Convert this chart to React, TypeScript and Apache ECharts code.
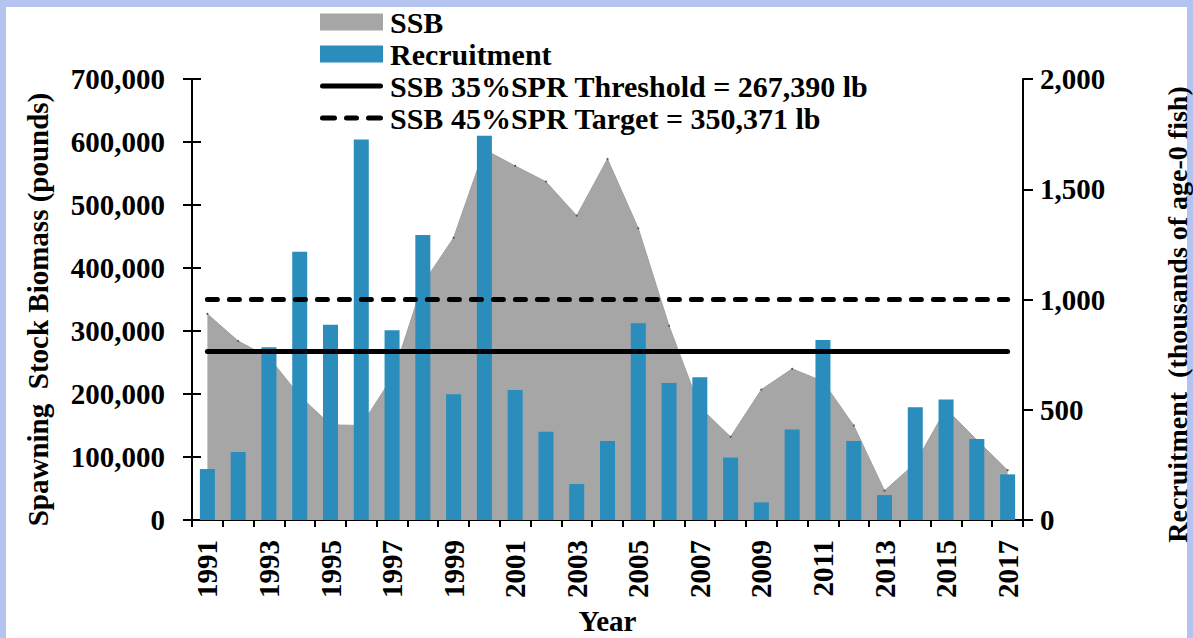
import React, { useEffect, useRef } from "react";
import * as echarts from "echarts";

const years: string[] = [
  "1991","1992","1993","1994","1995","1996","1997","1998","1999","2000",
  "2001","2002","2003","2004","2005","2006","2007","2008","2009","2010",
  "2011","2012","2013","2014","2015","2016","2017",
];

const ssb: number[] = [
  327000, 284000, 258000, 197000, 151000, 150000, 226000, 375000, 448000, 588000,
  562000, 537000, 483000, 573000, 463000, 308000, 179000, 132000, 207000, 240000,
  220000, 150000, 46500, 90000, 176500, 127000, 79000,
];

const recruitment: number[] = [
  231, 308, 783, 1217, 886, 1726, 860, 1292, 570, 1743,
  590, 400, 163, 358, 892, 621, 647, 283, 80, 410,
  816, 358, 113, 511, 546, 367, 207,
];

const thresholdValue = 267390;
const targetValue = 350371;

const leftTicks = { min: 0, max: 700000, interval: 100000 };
const rightTicks = { min: 0, max: 2000, interval: 500 };

const thresholdName = "SSB 35%SPR Threshold = 267,390 lb";
const targetName = "SSB 45%SPR Target = 350,371 lb";

const FONT = '"Liberation Serif", "Times New Roman", serif';

export default function App() {
  const ref = useRef<HTMLDivElement>(null);

  useEffect(() => {
    document.body.style.margin = "0";
    if (!ref.current) return;
    const chart = echarts.init(ref.current, null, { renderer: "svg" });
    const fmt = (v: number) => v.toLocaleString("en-US");
    const txt = { fontFamily: FONT, fontWeight: "bold" as const, color: "#000" };

    chart.setOption({
      animation: false,
      backgroundColor: "transparent",
      textStyle: { fontFamily: FONT },
      grid: {
        left: 192, right: 170, top: 79, bottom: 118,
        containLabel: false,
        outerBoundsMode: "none",
      },
      legend: {
        orient: "vertical",
        left: 320,
        top: 7,
        padding: 0,
        itemWidth: 63,
        itemHeight: 17,
        itemGap: 2,
        textStyle: { ...txt, fontSize: 30, lineHeight: 30, padding: [0, 0, 0, 2] },
        data: [
          { name: "SSB", icon: "rect", itemStyle: { color: "#A6A6A6" } },
          { name: "Recruitment", icon: "rect", itemStyle: { color: "#2A8DBB" } },
          {
            name: thresholdName,
            icon: "path://M2.5,0h58a2.5,2.5,0,0,1,0,5h-58a2.5,2.5,0,0,1,0,-5z",
            itemStyle: { color: "#000" },
          },
          {
            name: targetName,
            icon: "path://M2.5,0h12a2.5,2.5,0,0,1,0,5h-12a2.5,2.5,0,0,1,0,-5zM26.5,0h10a2.5,2.5,0,0,1,0,5h-10a2.5,2.5,0,0,1,0,-5zM48.5,0h12a2.5,2.5,0,0,1,0,5h-12a2.5,2.5,0,0,1,0,-5z",
            itemStyle: { color: "#000" },
          },
        ],
      },
      xAxis: [
        {
          type: "category",
          data: years,
          boundaryGap: true,
          name: "Year",
          nameLocation: "middle",
          nameGap: 86,
          nameTextStyle: { ...txt, fontSize: 29 },
          axisLine: { show: true, lineStyle: { color: "#000", width: 2 } },
          axisTick: { show: true, alignWithLabel: false, interval: 0, length: 7, lineStyle: { color: "#000", width: 2 } },
          axisLabel: { ...txt, fontSize: 29, rotate: 90, interval: 1, margin: 20 },
          splitLine: { show: false },
        },
        {
          type: "category",
          data: years,
          boundaryGap: true,
          position: "bottom",
          axisLine: { show: false },
          axisTick: { show: true, inside: true, interval: 0, length: 10, lineStyle: { color: "#000", width: 2 } },
          axisLabel: { show: false },
          splitLine: { show: false },
        },
      ],
      yAxis: [
        {
          type: "value",
          position: "left",
          ...leftTicks,
          name: "Spawning  Stock Biomass (pounds)",
          nameLocation: "middle",
          nameRotate: 90,
          nameGap: 140,
          nameTextStyle: { ...txt, fontSize: 29, padding: [0, 20, 0, 0] },
          axisLine: { show: true, lineStyle: { color: "#000", width: 2 } },
          axisTick: { show: true, length: 9, lineStyle: { color: "#000", width: 2 } },
          axisLabel: { ...txt, fontSize: 29, margin: 27, formatter: fmt },
          splitLine: { show: false },
        },
        {
          type: "value",
          position: "right",
          ...rightTicks,
          name: "Recruitment  (thousands of age-0 fish)",
          nameLocation: "middle",
          nameRotate: 90,
          nameGap: 140,
          nameTextStyle: { ...txt, fontSize: 28, padding: [0, 30, 0, 0] },
          axisLine: { show: true, lineStyle: { color: "#000", width: 2 } },
          axisTick: { show: true, length: 10, lineStyle: { color: "#000", width: 2 } },
          axisLabel: { ...txt, fontSize: 29, margin: 17, formatter: fmt },
          splitLine: { show: false },
        },
        {
          type: "value",
          position: "left",
          ...leftTicks,
          axisLine: { show: false },
          axisTick: { show: true, inside: true, length: 9, lineStyle: { color: "#000", width: 2 } },
          axisLabel: { show: false },
          splitLine: { show: false },
        },
      ],
      series: [
        {
          name: "SSB",
          type: "line",
          data: ssb,
          xAxisIndex: 0,
          yAxisIndex: 0,
          symbol: "circle",
          symbolSize: 2,
          showSymbol: true,
          itemStyle: { color: "#555" },
          lineStyle: { color: "#A0A0A0", width: 1 },
          areaStyle: { color: "#A6A6A6", opacity: 1 },
          z: 1,
        },
        {
          name: "Recruitment",
          type: "bar",
          data: recruitment,
          xAxisIndex: 0,
          yAxisIndex: 1,
          barWidth: 15,
          itemStyle: { color: "#2A8DBB" },
          z: 2,
        },
        {
          name: thresholdName,
          type: "line",
          data: [],
          xAxisIndex: 0,
          yAxisIndex: 0,
          symbol: "none",
          itemStyle: { color: "#000" },
          lineStyle: { color: "#000", width: 5, cap: "round" },
          z: 3,
          markLine: {
            silent: true,
            symbol: "none",
            label: { show: false },
            lineStyle: { color: "#000", width: 5, type: "solid", cap: "round" },
            data: [[{ coord: [years[0], thresholdValue] }, { coord: [years[years.length - 1], thresholdValue] }]],
          },
        },
        {
          name: targetName,
          type: "line",
          data: [],
          xAxisIndex: 0,
          yAxisIndex: 0,
          symbol: "none",
          itemStyle: { color: "#000" },
          lineStyle: { color: "#000", width: 5, type: [10, 12], cap: "round" },
          z: 3,
          markLine: {
            silent: true,
            symbol: "none",
            label: { show: false },
            lineStyle: { color: "#000", width: 5, type: [10, 12], cap: "round" },
            data: [[{ coord: [years[0], targetValue] }, { coord: [years[years.length - 1], targetValue] }]],
          },
        },
      ],
    });

    return () => chart.dispose();
  }, []);

  return (
    <div style={{ position: "fixed", left: 0, top: 0, width: 1193, height: 638, background: "#B5C3F0", overflow: "hidden" }}>
      <div style={{ position: "absolute", left: 6, top: 7, width: 1181, height: 640, background: "#fff" }} />
      <div ref={ref} style={{ position: "absolute", left: 0, top: 0, width: 1193, height: 638 }} />
    </div>
  );
}
